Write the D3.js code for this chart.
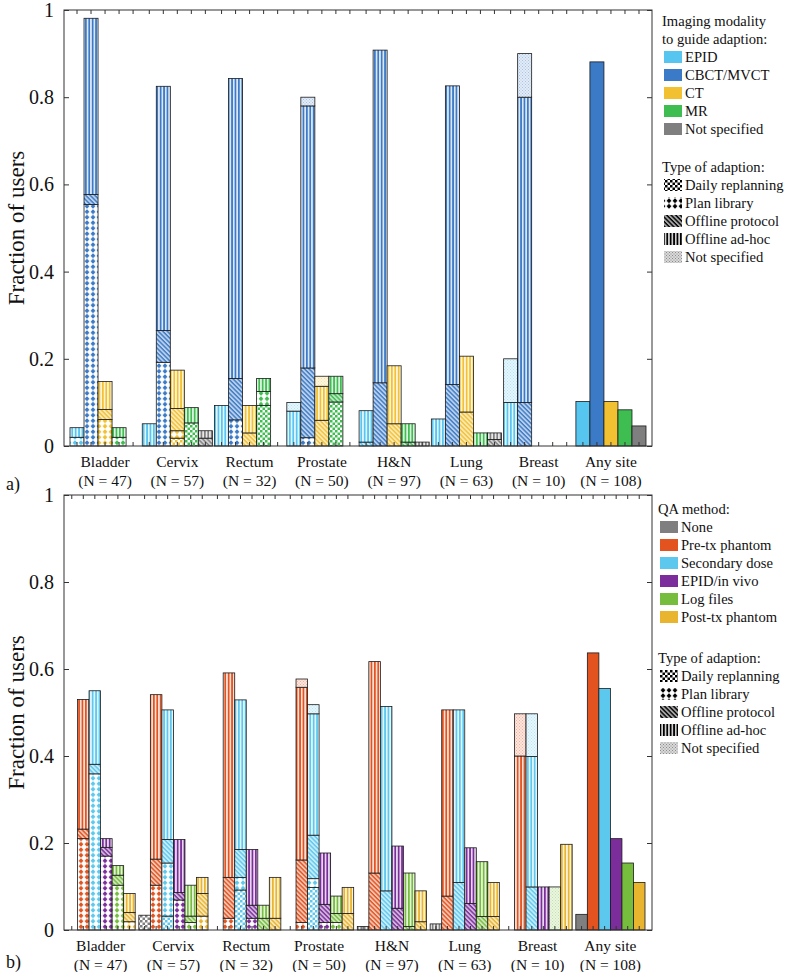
<!DOCTYPE html>
<html><head><meta charset="utf-8">
<script src="https://cdn.jsdelivr.net/npm/d3@7"></script>
<style>body{margin:0;background:#fff}svg{display:block}</style>
</head><body><div id="chart"></div>
<script>
// ---------------- DATA ----------------
const categories = ["Bladder","Cervix","Rectum","Prostate","H&N","Lung","Breast","Any site"];
const sampleSizes = [47,57,32,50,97,63,10,108];
const yTicks = [0,0.2,0.4,0.6,0.8,1];
const adaptionTypes = ["Daily replanning","Plan library","Offline protocol","Offline ad-hoc","Not specified"];
const adaptionKeys = ["daily","plan","offline","adhoc","ns"];

// Panel a: imaging modality. Each row = one site, segments [daily, plan, offline, adhoc, ns]
const modalityNames = ["EPID","CBCT/MVCT","CT","MR","Not specified"];
const modalityColors = ["#56C5F0","#3B7AC6","#F2C132","#3EBE50","#7F7F7F"];
const epidA = [[0,0.020,0,0.022,0],[0,0,0,0.051,0],[0,0,0,0.093,0],[0,0,0,0.080,0.020],[0,0,0.009,0.072,0],[0,0,0,0.062,0],[0,0,0,0.100,0.100]];
const cbctA = [[0,0.554,0.023,0.404,0],[0,0.192,0.073,0.560,0],[0,0.060,0.095,0.688,0],[0,0.019,0.160,0.601,0.020],[0,0,0.145,0.763,0],[0,0,0.141,0.685,0],[0,0,0.100,0.700,0.100]];
const ctA   = [[0,0.061,0.023,0.064,0],[0.018,0.017,0.051,0.088,0],[0,0,0.030,0.063,0],[0,0,0.059,0.078,0.023],[0,0,0.051,0.133,0],[0,0,0.078,0.128,0],[0,0,0,0,0]];
const mrA   = [[0,0.020,0,0.022,0],[0.053,0,0,0.035,0],[0.093,0.032,0,0.030,0],[0.101,0,0.019,0.040,0],[0,0,0.009,0.042,0],[0,0,0,0.030,0],[0,0,0,0,0]];
const nsA   = [[0,0,0,0,0],[0,0,0.018,0.017,0],[0,0,0,0,0],[0,0,0,0,0],[0,0,0,0.009,0],[0,0,0.015,0.015,0],[0,0,0,0,0]];
const anySiteA = [0.102,0.881,0.102,0.083,0.046];

// Panel b: QA method
const qaNames = ["None","Pre-tx phantom","Secondary dose","EPID/in vivo","Log files","Post-tx phantom"];
const qaColors = ["#7F7F7F","#E2531F","#5DC8EE","#7B2D9B","#76BD3D","#E9B52E"];
const noneB = [[0,0,0,0,0],[0.034,0,0,0,0],[0,0,0,0,0],[0,0,0,0,0],[0,0,0,0.008,0],[0,0,0,0.014,0],[0,0,0,0,0]];
const preB  = [[0,0.210,0.022,0.298,0],[0,0.103,0.060,0.378,0],[0,0.027,0.094,0.470,0],[0,0.017,0.144,0.397,0.019],[0,0,0.131,0.486,0],[0,0,0.078,0.428,0],[0,0,0,0.400,0.097]];
const secB  = [[0,0.359,0.022,0.169,0],[0.032,0.122,0.054,0.298,0],[0.092,0.029,0.064,0.344,0],[0.098,0.020,0.100,0.279,0.021],[0,0,0.090,0.424,0],[0,0,0.109,0.397,0],[0,0,0.099,0.300,0.098]];
const epidB = [[0,0.170,0.020,0.020,0],[0,0.069,0.017,0.122,0],[0,0.027,0.030,0.128,0],[0,0.017,0.042,0.118,0],[0,0,0.050,0.143,0],[0,0,0.061,0.128,0],[0,0,0,0.099,0]];
const logB  = [[0,0.103,0.023,0.022,0],[0,0.017,0.015,0.071,0],[0,0,0.027,0.030,0],[0,0.017,0.021,0.040,0],[0,0,0.008,0.123,0],[0,0,0.031,0.126,0],[0,0,0,0,0.099]];
const postB = [[0,0.019,0.021,0.044,0],[0,0.032,0.052,0.037,0],[0,0,0.027,0.094,0],[0,0,0.038,0.060,0],[0,0,0.019,0.071,0],[0,0,0.031,0.078,0],[0,0,0,0.197,0]];
const anySiteB = [0.036,0.637,0.555,0.210,0.154,0.109];

// ---------------- CHART ----------------
const FONT = "'Liberation Serif', 'Times New Roman', Times, 'DejaVu Serif', serif";
const W = 787, H = 972;
const svg = d3.select("#chart").append("svg").attr("width",W).attr("height",H)
  .attr("font-family",FONT);
const defs = svg.append("defs");
const FRAME_L = 64, FRAME_R = 652;
const LEG_FS = 14.6;

function tint(c,t){return d3.interpolateRgb("#ffffff",c)(t);}
function patId(color,type){return "p"+color.replace("#","")+"_"+type;}
const made = new Set();
function pattern(color,type){
  const id = patId(color,type);
  if(made.has(id)) return "url(#"+id+")";
  made.add(id);
  const p = defs.append("pattern").attr("id",id).attr("patternUnits","userSpaceOnUse");
  if(type==="daily"){
    p.attr("width",5).attr("height",5);
    p.append("rect").attr("width",5).attr("height",5).attr("fill","#fff");
    p.append("rect").attr("width",2.5).attr("height",2.5).attr("fill",color);
    p.append("rect").attr("x",2.5).attr("y",2.5).attr("width",2.5).attr("height",2.5).attr("fill",color);
  } else if(type==="plan"){
    p.attr("width",6).attr("height",5.5);
    p.append("rect").attr("width",6).attr("height",5.5).attr("fill","#fff");
    p.append("path").attr("d","M3,0.3 L5.5,2.75 L3,5.2 L0.5,2.75 Z").attr("fill",color);
  } else if(type==="offline"){
    p.attr("width",3.2).attr("height",3.2).attr("patternTransform","rotate(45)");
    p.append("rect").attr("width",3.2).attr("height",3.2).attr("fill",tint(color,0.35));
    p.append("rect").attr("width",3.2).attr("height",1.4).attr("fill",color);
  } else if(type==="adhoc"){
    p.attr("width",3.4).attr("height",4);
    p.append("rect").attr("width",3.4).attr("height",4).attr("fill",tint(color,0.18));
    p.append("rect").attr("width",1.7).attr("height",4).attr("fill",color);
  } else if(type==="ns"){
    p.attr("width",3).attr("height",3);
    p.append("rect").attr("width",3).attr("height",3).attr("fill",tint(color,0.15));
    p.append("rect").attr("x",0).attr("y",0).attr("width",1).attr("height",1).attr("fill",tint(color,0.45));
    p.append("rect").attr("x",1.5).attr("y",1.5).attr("width",1).attr("height",1).attr("fill",tint(color,0.45));
  }
  return "url(#"+id+")";
}

function txt(g,x,y,s,size){
  return g.append("text").attr("x",x).attr("y",y).attr("font-family",FONT).attr("font-size",size).attr("fill","#111").text(s);
}

function drawPanel(cfg){
  const g = svg.append("g");
  const y = d3.scaleLinear().domain([0,1]).range([cfg.bottom,cfg.top]);
  const x = d3.scaleBand().domain(categories).range(cfg.xRange).paddingInner(cfg.pad);
  const xi = d3.scaleBand().domain(cfg.names).range([0,x.bandwidth()]);

  cfg.series.forEach((rows,si)=>{
    rows.forEach((segs,ci)=>{
      const cum = [0,...d3.cumsum(segs)];
      segs.forEach((v,k)=>{
        if(v<=0) return;
        g.append("rect")
          .attr("x",x(categories[ci])+xi(cfg.names[si]))
          .attr("width",xi.bandwidth())
          .attr("y",y(cum[k+1]))
          .attr("height",y(cum[k])-y(cum[k+1]))
          .attr("fill",pattern(cfg.colors[si],adaptionKeys[k]))
          .attr("stroke","#1a1a1a").attr("stroke-width",0.8);
      });
    });
  });
  cfg.any.forEach((v,si)=>{
    g.append("rect")
      .attr("x",x("Any site")+xi(cfg.names[si]))
      .attr("width",xi.bandwidth())
      .attr("y",y(v)).attr("height",y(0)-y(v))
      .attr("fill",cfg.colors[si]).attr("stroke","#1a1a1a").attr("stroke-width",0.8);
  });

  g.append("rect").attr("x",FRAME_L).attr("y",cfg.top).attr("width",FRAME_R-FRAME_L).attr("height",cfg.bottom-cfg.top)
    .attr("fill","none").attr("stroke","#333").attr("stroke-width",1);

  const ya = g.append("g").attr("transform",`translate(${FRAME_L},0)`)
    .call(d3.axisLeft(y).tickValues(yTicks).tickFormat(d3.format("~g")).tickSizeInner(-5).tickSizeOuter(0).tickPadding(10));
  ya.attr("font-family",FONT).attr("font-size",20);
  ya.select(".domain").remove();
  ya.selectAll("text").attr("fill","#111");
  ya.selectAll("line").attr("stroke","#333");
  const yr = g.append("g").attr("transform",`translate(${FRAME_R},0)`)
    .call(d3.axisRight(y).tickValues(yTicks).tickFormat("").tickSizeInner(-5).tickSizeOuter(0));
  yr.select(".domain").remove();
  yr.selectAll("line").attr("stroke","#333");

  categories.forEach((c,ci)=>{
    cfg.names.forEach(n=>{
      const cx = x(c)+xi(n)+xi.bandwidth()/2;
      g.append("line").attr("x1",cx).attr("x2",cx).attr("y1",cfg.bottom).attr("y2",cfg.bottom-4).attr("stroke","#333");
      g.append("line").attr("x1",cx).attr("x2",cx).attr("y1",cfg.top).attr("y2",cfg.top+4).attr("stroke","#333");
    });
    const cx = x(c)+x.bandwidth()/2;
    txt(g,cx,cfg.bottom+21,c,15.5).attr("text-anchor","middle");
    txt(g,cx,cfg.bottom+40,`(N = ${sampleSizes[ci]})`,15.5).attr("text-anchor","middle");
  });

  txt(g,0,0,"Fraction of users",23).attr("text-anchor","middle")
    .attr("transform",`translate(${cfg.ylabX},${(cfg.top+cfg.bottom)/2}) rotate(-90)`);
  txt(g,6,cfg.letterY,cfg.letter,18);

  const L = cfg.legend;
  let yy = L.y0;
  L.title.forEach(t=>{ txt(g,L.tx,yy,t,LEG_FS); yy += 18; });
  cfg.names.forEach((n,i)=>{
    g.append("rect").attr("x",L.sx).attr("y",yy-11).attr("width",18).attr("height",12).attr("fill",cfg.colors[i]);
    txt(g,L.lx,yy,n,LEG_FS);
    yy += 18;
  });
  yy = L.y1;
  txt(g,L.tx,yy,"Type of adaption:",LEG_FS);
  yy += 18;
  adaptionTypes.forEach((n,k)=>{
    g.append("rect").attr("x",L.sx).attr("y",yy-11).attr("width",18).attr("height",12).attr("fill",pattern("#000000",adaptionKeys[k]));
    txt(g,L.lx,yy,n,LEG_FS);
    yy += 18;
  });
}

drawPanel({top:10,bottom:446,xRange:[70,646],pad:0.03,names:modalityNames,colors:modalityColors,
  series:[epidA,cbctA,ctA,mrA,nsA],any:anySiteA,ylabX:24,letter:"a)",letterY:490,
  legend:{title:["Imaging modality","to guide adaption:"],y0:26,y1:172,tx:662,sx:664,lx:685}});
drawPanel({top:495,bottom:930,xRange:[66,645],pad:0.05,names:qaNames,colors:qaColors,
  series:[noneB,preB,secB,epidB,logB,postB],any:anySiteB,ylabX:24,letter:"b)",letterY:968,
  legend:{title:["QA method:"],y0:514,y1:663,tx:658,sx:660,lx:681}});
</script></body></html>
